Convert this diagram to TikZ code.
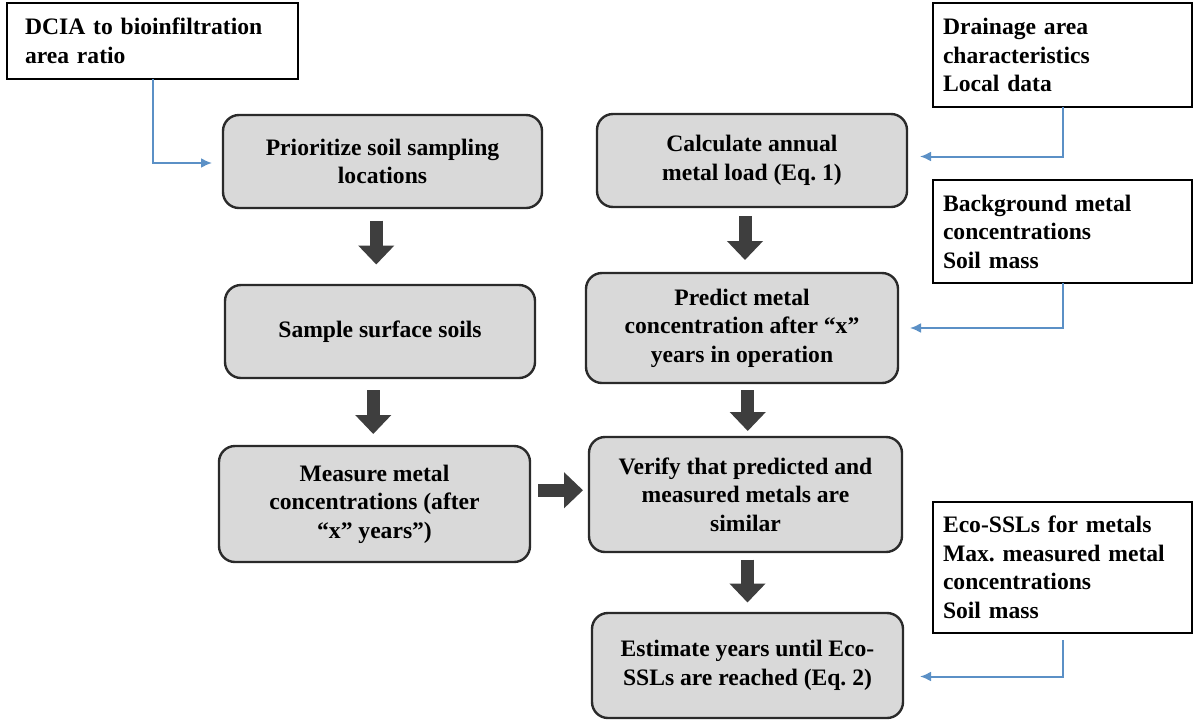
\documentclass[tikz,border=0pt]{standalone}
\usepackage{fontspec}
\setmainfont{Liberation Serif}
\usetikzlibrary{arrows.meta,calc}
\definecolor{boxfill}{HTML}{D9D9D9}
\definecolor{boxline}{HTML}{2A2A2A}
\definecolor{blk}{HTML}{3E3E3E}
\definecolor{conn}{HTML}{5B90C6}
\frenchspacing
\begin{document}
\begin{tikzpicture}[x=1pt,y=-1pt,
  every node/.style={font=\bfseries\fontsize{23.6}{28.5}\selectfont, inner sep=0pt, outer sep=0pt},
  stepbox/.style={draw=boxline, line width=2.4pt, fill=boxfill, rounded corners=16pt, align=center},
  inbox/.style={draw=black, line width=2.2pt, fill=white, align=left, inner xsep=10pt, anchor=center},
  blkarrow/.style={draw=blk, line width=13pt, -{Triangle[width=35pt,length=19pt]}},
  feed/.style={draw=conn, line width=2pt, -{Latex[length=11pt,width=10pt]}}
]
\useasboundingbox (0,0) rectangle (1196,721);
\fill[white] (0,0) rectangle (1196,721);

% input boxes
\node[inbox, minimum width=291pt, minimum height=76pt, text width=255pt, inner xsep=18pt] (dcia) at (152.5,41) {DCIA to bioinfiltration\\area ratio};
\node[inbox, minimum width=259pt, minimum height=104pt, text width=239pt] (drain) at (1062.5,55) {Drainage area\\characteristics\\Local data};
\node[inbox, minimum width=259pt, minimum height=103pt, text width=239pt] (back) at (1062.5,231.5) {Background metal\\concentrations\\Soil mass};
\node[inbox, minimum width=259pt, minimum height=131pt, text width=239pt] (eco) at (1062.5,567.5) {Eco-SSLs for metals\\Max. measured metal\\concentrations\\Soil mass};

% process boxes
\node[stepbox, minimum width=319pt, minimum height=93pt] (pri) at (382.5,161.5) {Prioritize soil sampling\\locations};
\node[stepbox, minimum width=310pt, minimum height=93pt] (sam) at (380,331.5) {Sample surface soils};
\node[stepbox, minimum width=311pt, minimum height=116pt] (mea) at (374.5,504) {Measure metal\\concentrations (after\\“x” years”)};
\node[stepbox, minimum width=310pt, minimum height=93pt] (cal) at (752,160.5) {Calculate annual\\metal load (Eq. 1)};
\node[stepbox, minimum width=312pt, minimum height=110pt] (pre) at (742,328) {Predict metal\\concentration after “x”\\years in operation};
\node[stepbox, minimum width=313pt, minimum height=115pt] (ver) at (745.5,494.5) {Verify that predicted and\\measured metals are\\similar};
\node[stepbox, minimum width=311pt, minimum height=105pt] (est) at (747.5,665.5) {Estimate years until Eco-\\SSLs are reached (Eq. 2)};

% block arrows
\draw[blkarrow] ($(pri.south)!0.5!(sam.north)+(-5,-26)$) -- ++(0,44);
\draw[blkarrow] ($(sam.south)!0.5!(mea.north)+(-4,-22)$) -- ++(0,44);
\draw[blkarrow] ($(cal.south)!0.5!(pre.north)+(-2,-24)$) -- ++(0,44);
\draw[blkarrow] ($(pre.south)!0.5!(ver.north)+(4,-20)$) -- ++(0,41);
\draw[blkarrow] ($(ver.south)!0.5!(est.north)+(1,-23)$) -- ++(0,43);
\draw[blkarrow] ($(mea.east)!0.5!(ver.west)+(-21.5,-9)$) -- ++(45,0);

% feeders
\coordinate (t1) at ($(pri.west)+(-11,1.5)$);
\coordinate (t2) at ($(cal.east)+(13,-4)$);
\coordinate (t3) at ($(pre.east)+(12,0)$);
\coordinate (e4) at ($(eco.south)+(0,7)$);
\coordinate (t4) at ($(est.east)+(17,11)$);
\draw[feed] (dcia.south) |- (t1);
\draw[feed] (drain.south) |- (t2);
\draw[feed] (back.south) |- (t3);
\draw[feed] (e4) |- (t4);
\end{tikzpicture}
\end{document}
